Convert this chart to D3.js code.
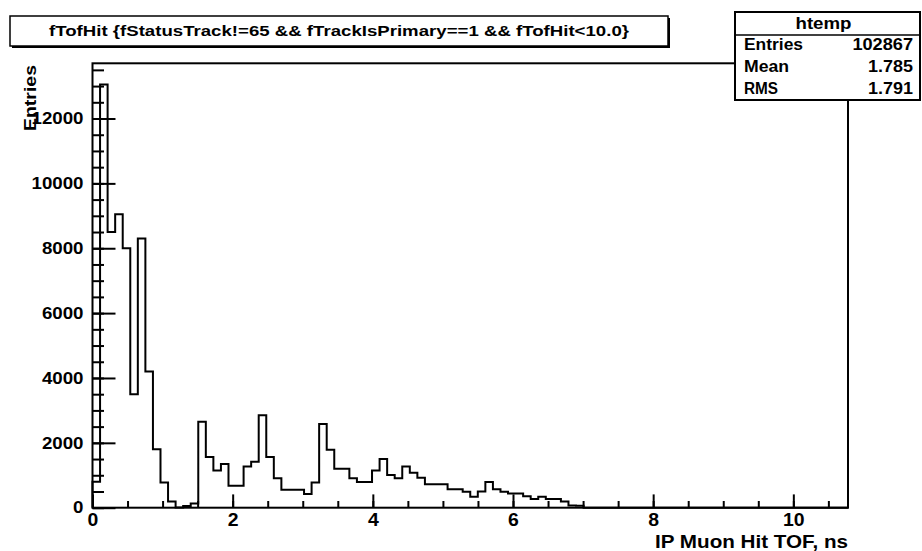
<!DOCTYPE html>
<html>
<head>
<meta charset="utf-8">
<script src="https://cdn.jsdelivr.net/npm/d3@7"></script>
<style>
  html, body { margin: 0; padding: 0; background: #fff; }
  text { font-family: "Liberation Sans", Arial, Helvetica, sans-serif; font-weight: bold; fill: #000; }
</style>
</head>
<body>
<svg id="chart" width="922" height="551"></svg>
<script>
// Histogram range and per-bin counts (100 equal bins)
const binLow = 0;
const binHigh = 10.78;
const counts = [
  800, 13050, 8500, 9050, 8000, 3500, 8300, 4200, 1800, 780,
  190, 10, 50, 130, 2650, 1560, 1150, 1350, 680, 680,
  1270, 1420, 2850, 1560, 910, 550, 550, 550, 420, 780,
  2580, 1790, 1200, 1200, 910, 790, 790, 1150, 1500, 1010,
  910, 1270, 1080, 920, 720, 720, 720, 570, 570, 495,
  340, 500, 790, 570, 495, 440, 440, 350, 270, 340,
  270, 270, 195, 70, 60, 0, 0, 0, 0, 0,
  0, 0, 0, 0, 0, 0, 0, 0, 0, 0,
  0, 0, 0, 0, 0, 0, 0, 0, 0, 0,
  0, 0, 0, 0, 0, 0, 0, 0, 0, 0
];

// Axis ticks
const xMajorTicks = [0, 2, 4, 6, 8, 10];
const xMinorTicks = d3.range(0, 10.75, 0.5);
const yMajorTicks = [0, 2000, 4000, 6000, 8000, 10000, 12000];
const yMinorTicks = d3.range(0, 13600, 500);

// Texts
const titleText = "fTofHit {fStatusTrack!=65 && fTrackIsPrimary==1 && fTofHit<10.0}";
const xTitle = "IP Muon Hit TOF, ns";
const yTitle = "Entries";
const statsName = "htemp";
const statLabels = ["Entries", "Mean", "RMS"];
const statValues = ["102867", "1.785", "1.791"];

// Frame geometry
const frame = { left: 92.5, right: 848, top: 63.3, bottom: 507.7 };

const svg = d3.select("#chart");

const x = d3.scaleLinear().domain([binLow, binHigh]).range([frame.left, frame.right]);
const yMax = d3.max(counts) * 1.05;
const y = d3.scaleLinear().domain([0, yMax]).range([frame.bottom, frame.top]);

const nBins = counts.length;
const bw = (binHigh - binLow) / nBins;

// Stepped outline of the histogram
const pts = [[binLow, 0]];
counts.forEach((c, i) => {
  pts.push([binLow + i * bw, c]);
  pts.push([binLow + (i + 1) * bw, c]);
});
pts.push([binHigh, 0]);

const line = d3.line().x(d => x(d[0])).y(d => y(d[1]));

svg.append("path")
  .attr("d", line(pts))
  .attr("fill", "none")
  .attr("stroke", "#000")
  .attr("stroke-width", 2)
  .attr("stroke-linejoin", "miter");

// Frame
svg.append("rect")
  .attr("x", frame.left).attr("y", frame.top)
  .attr("width", frame.right - frame.left)
  .attr("height", frame.bottom - frame.top)
  .attr("fill", "none").attr("stroke", "#000").attr("stroke-width", 2);

// Digit width used to stretch the numeric labels
const digitW = 10.4;
function stretch(sel, perChar) {
  sel.each(function () {
    const t = d3.select(this);
    const s = t.text();
    if (s.length) t.attr("textLength", s.length * perChar).attr("lengthAdjust", "spacingAndGlyphs");
  });
}

// Y axis: major ticks with labels, minor ticks
const yAxis = svg.append("g")
  .attr("transform", `translate(${frame.left},0)`)
  .call(d3.axisLeft(y).tickValues(yMajorTicks).tickSize(-23).tickPadding(9).tickFormat(d3.format("d")));
yAxis.select(".domain").remove();
yAxis.selectAll("line").attr("stroke", "#000").attr("stroke-width", 2);
yAxis.selectAll("text")
  .style("font-size", "16.5px")
  .attr("font-family", null).attr("font-size", null)
  .attr("fill", "#000");
stretch(yAxis.selectAll("text"), digitW);

const yMinor = svg.append("g")
  .attr("transform", `translate(${frame.left},0)`)
  .call(d3.axisLeft(y).tickValues(yMinorTicks).tickSize(-11.5).tickFormat(""));
yMinor.select(".domain").remove();
yMinor.selectAll("line").attr("stroke", "#000").attr("stroke-width", 2);

// X axis
const xAxis = svg.append("g")
  .attr("transform", `translate(0,${frame.bottom})`)
  .call(d3.axisBottom(x).tickValues(xMajorTicks).tickSize(-13.3).tickPadding(6).tickFormat(d3.format("d")));
xAxis.select(".domain").remove();
xAxis.selectAll("line").attr("stroke", "#000").attr("stroke-width", 2);
xAxis.selectAll("text")
  .style("font-size", "18px")
  .attr("font-family", null).attr("font-size", null)
  .attr("fill", "#000");
stretch(xAxis.selectAll("text"), 10.8);

const xMinor = svg.append("g")
  .attr("transform", `translate(0,${frame.bottom})`)
  .call(d3.axisBottom(x).tickValues(xMinorTicks).tickSize(-6.7).tickFormat(""));
xMinor.select(".domain").remove();
xMinor.selectAll("line").attr("stroke", "#000").attr("stroke-width", 2);

// Axis titles
svg.append("text")
  .attr("x", frame.right).attr("y", 548)
  .attr("text-anchor", "end")
  .style("font-size", "18px")
  .attr("textLength", 193).attr("lengthAdjust", "spacingAndGlyphs")
  .text(xTitle);

svg.append("text")
  .attr("transform", "translate(36,65) rotate(-90)")
  .attr("text-anchor", "end")
  .style("font-size", "17px")
  .attr("textLength", 66).attr("lengthAdjust", "spacingAndGlyphs")
  .text(yTitle);

// Title box
const tb = { x: 10, y: 16, w: 658, h: 30 };
svg.append("rect")
  .attr("x", tb.x + 2).attr("y", tb.y + 2).attr("width", tb.w).attr("height", tb.h)
  .attr("fill", "#000");
svg.append("rect")
  .attr("x", tb.x).attr("y", tb.y).attr("width", tb.w).attr("height", tb.h)
  .attr("fill", "#fff").attr("stroke", "#000").attr("stroke-width", 1.5);
svg.append("text")
  .attr("x", tb.x + tb.w / 2).attr("y", tb.y + 20)
  .attr("text-anchor", "middle")
  .style("font-size", "15px")
  .attr("textLength", 580).attr("lengthAdjust", "spacingAndGlyphs")
  .text(titleText);

// Statistics box
const sb = { x: 735, y: 12, w: 185, h: 88, head: 23 };
svg.append("rect")
  .attr("x", sb.x).attr("y", sb.y).attr("width", sb.w).attr("height", sb.h)
  .attr("fill", "#fff").attr("stroke", "#000").attr("stroke-width", 2);
svg.append("line")
  .attr("x1", sb.x).attr("x2", sb.x + sb.w)
  .attr("y1", sb.y + sb.head).attr("y2", sb.y + sb.head)
  .attr("stroke", "#000").attr("stroke-width", 1.5);
svg.append("text")
  .attr("x", sb.x + sb.w / 2 - 4).attr("y", 29)
  .attr("text-anchor", "middle")
  .style("font-size", "16px")
  .attr("textLength", 56).attr("lengthAdjust", "spacingAndGlyphs")
  .text(statsName);

const rowY = [50, 72, 94];
const labelW = [59, 45, 34];
statLabels.forEach((s, i) => {
  svg.append("text")
    .attr("x", 744).attr("y", rowY[i])
    .style("font-size", "16px")
    .attr("textLength", labelW[i]).attr("lengthAdjust", "spacingAndGlyphs")
    .text(s);
});
statValues.forEach((s, i) => {
  svg.append("text")
    .attr("x", 913).attr("y", rowY[i])
    .attr("text-anchor", "end")
    .style("font-size", "16px")
    .attr("textLength", s.replace(".", "").length * 10.1 + (s.includes(".") ? 4.5 : 0))
    .attr("lengthAdjust", "spacingAndGlyphs")
    .text(s);
});
</script>
</body>
</html>
